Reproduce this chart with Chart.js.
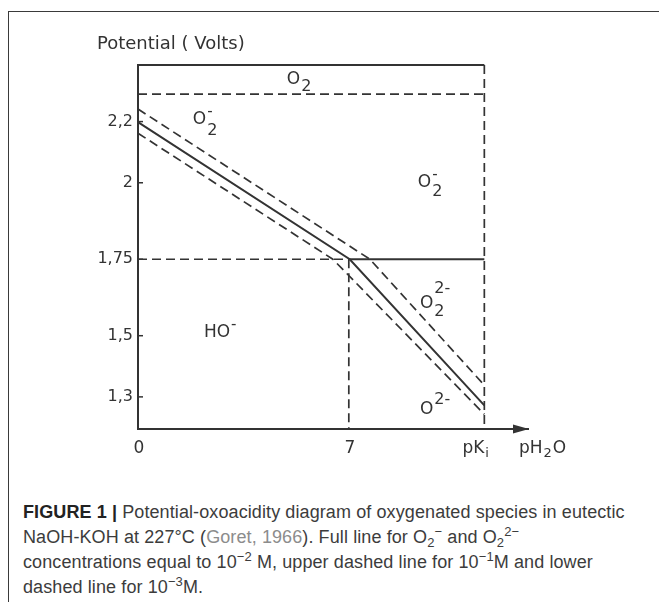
<!DOCTYPE html>
<html>
<head>
<meta charset="utf-8">
<script src="https://cdn.jsdelivr.net/npm/chart.js@4.4.1/dist/chart.umd.min.js"></script>
<style>
  html, body { margin: 0; padding: 0; background: #fff; }
  #fig { position: relative; width: 659px; height: 602px; overflow: hidden; }
  .edge { position: absolute; background: #3a3a3a; }
  #wrap { position: absolute; left: 0; top: 0; width: 659px; height: 480px; }
  #caption { position: absolute; left: 23px; top: 500px; font-family: "Liberation Sans", Arial, sans-serif;
             font-size: 18px; letter-spacing: 0.1px; line-height: 25px; color: #3c3c3c; white-space: nowrap; }
  #caption b { color: #222; }
  #caption .ref { color: #8c8c8c; }
  #caption sub, #caption sup { font-size: 13px; line-height: 0; vertical-align: baseline; position: relative; }
  #caption sub { top: 4px; }
  #caption sup { top: -7px; }
</style>
</head>
<body>
<div id="fig">
  <div class="edge" style="left:8px;top:11px;width:651px;height:1px"></div>
  <div class="edge" style="left:8px;top:11px;width:1px;height:591px"></div>
  <div id="wrap"><canvas id="c"></canvas></div>
  <div id="caption"><b>FIGURE 1 |</b> Potential-oxoacidity diagram of oxygenated species in eutectic<br>NaOH-KOH at 227°C (<span class="ref">Goret, 1966</span>). Full line for O<sub>2</sub><sup>−</sup> and O<sub>2</sub><sup>2−</sup><br>concentrations equal to 10<sup>−2</sup> M, upper dashed line for 10<sup>−1</sup>M and lower<br>dashed line for 10<sup>−3</sup>M.</div>
</div>

<script>
/* potential (V) vs pH2O */
const xTicks = [0, 7, 11.5];
const xTickLabels = [["0"], ["7"], ["pK", "i"]];
const yTicks = [1.3, 1.5, 1.75, 2, 2.2];
const yTickLabels = ["1,3", "1,5", "1,75", "2", "2,2"];
const xRange = [0, 12.95];
const yRange = [1.195, 2.385];

// domain boundaries [pH2O, V]
const topEdge   = [[0, 2.385], [11.5, 2.385]];
const o2Limit   = [[0, 2.29], [11.5, 2.29]];
const fullLine  = [[0, 2.198], [7.03, 1.75], [11.5, 1.272]];   // 10^-2 M
const upperLine = [[0, 2.241], [7.7, 1.75], [11.5, 1.338]];    // 10^-1 M
const lowerLine = [[0, 2.162], [6.47, 1.75], [11.5, 1.243]];   // 10^-3 M
const h175Dash  = [[0, 1.75], [7, 1.75]];
const h175Solid = [[7, 1.75], [11.5, 1.75]];
const vert7     = [[7, 1.75], [7, 1.195]];
const vertPk    = [[11.5, 2.385], [11.5, 1.195]];

// species labels: anchor [pH2O, V] + pieces [text, dy, size, stack]
const species = [
  { at: [4.94, 2.336], parts: [["O", 0, 17], ["2", 7, 16]] },
  { at: [1.82, 2.208], parts: [["O", 0, 17], ["-", -7, 15, true], ["2", 12, 16]] },
  { at: [9.29, 2.002], parts: [["O", 0, 17], ["-", -7, 15, true], ["2", 10, 16]] },
  { at: [9.36, 1.606], parts: [["O", 0, 17], ["2-", -14, 16, true], ["2", 9, 16]] },
  { at: [9.36, 1.259], parts: [["O", 0, 17], ["2-", -10, 16]] },
  { at: [2.19, 1.511], parts: [["HO", 0, 17], ["-", -7, 15]] }
];

const ink = "#333";
const fnt = (px) => `${px}px "DejaVu Sans", sans-serif`;
const pts = (a) => a.map(([x, y]) => ({ x, y }));

function seg(data, dashed, w) {
  return { data: pts(data), showLine: true, borderColor: ink, borderWidth: w || 1.7,
           borderDash: dashed ? [9, 5] : [], pointRadius: 0, tension: 0, clip: false };
}

// draw a run of text pieces, sub/superscripts shifted by dy
function chem(ctx, x, y, parts) {
  let cx = x;
  parts.forEach(([t, dy, size, stack]) => {
    ctx.font = fnt(size);
    ctx.fillText(t, cx, y + dy);
    if (!stack) cx += ctx.measureText(t).width + 1;
  });
  return cx;
}

const decor = {
  id: "decor",
  afterDraw(chart) {
    const { ctx, chartArea: a, scales: { x, y } } = chart;
    ctx.save();
    ctx.strokeStyle = ink; ctx.fillStyle = ink; ctx.lineWidth = 1.5;
    ctx.textBaseline = "middle"; ctx.textAlign = "left";

    // inward tick marks on the potential axis
    yTicks.forEach((v) => {
      const py = y.getPixelForValue(v);
      ctx.beginPath(); ctx.moveTo(a.left, py); ctx.lineTo(a.left + 5, py); ctx.stroke();
    });

    // arrow head on pH2O axis
    ctx.beginPath();
    ctx.moveTo(a.right + 1, a.bottom);
    ctx.lineTo(a.right - 15, a.bottom - 4.5);
    ctx.lineTo(a.right - 15, a.bottom + 4.5);
    ctx.closePath(); ctx.fill();

    // x tick labels
    const ly = a.bottom + 20;
    xTicks.forEach((v, i) => {
      const px = x.getPixelForValue(v);
      const lab = xTickLabels[i];
      if (lab.length === 1) {
        ctx.font = fnt(17); ctx.textAlign = "center";
        ctx.fillText(lab[0], px + 1, ly);
        ctx.textAlign = "left";
      } else {
        ctx.font = fnt(17);
        const w = ctx.measureText(lab[0]).width;
        chem(ctx, px - w, ly, [[lab[0], 0, 17], [lab[1], 5, 13]]);
      }
    });
    chem(ctx, a.right - 9, ly, [["pH", 0, 17], ["2", 5, 13], ["O", 0, 17]]);

    // axis title
    ctx.font = fnt(18);
    ctx.fillText("Potential ( Volts)", a.left - 41, a.top - 21);

    species.forEach((s) => {
      chem(ctx, x.getPixelForValue(s.at[0]), y.getPixelForValue(s.at[1]), s.parts);
    });
    ctx.restore();
  }
};

new Chart(document.getElementById("c"), {
  type: "scatter",
  data: {
    datasets: [
      seg(topEdge, false, 2),
      seg(o2Limit, true),
      seg(fullLine, false, 2),
      seg(upperLine, true),
      seg(lowerLine, true),
      seg(h175Dash, true),
      seg(h175Solid, false, 2),
      seg(vert7, true),
      seg(vertPk, true)
    ]
  },
  options: {
    responsive: true, maintainAspectRatio: false, animation: false, events: [],
    layout: { padding: { top: 65, right: 659 - 528, left: 0, bottom: 0 } },
    plugins: { legend: { display: false }, tooltip: { enabled: false } },
    scales: {
      x: {
        type: "linear", min: xRange[0], max: xRange[1],
        afterFit: (s) => { s.height = 51; },
        afterBuildTicks: (s) => { s.ticks = xTicks.map((v) => ({ value: v })); },
        grid: { display: false, drawTicks: false },
        border: { color: ink, width: 2 },
        ticks: { display: false }
      },
      y: {
        type: "linear", min: yRange[0], max: yRange[1],
        afterFit: (s) => { s.width = 138; },
        afterBuildTicks: (s) => { s.ticks = yTicks.map((v) => ({ value: v })); },
        grid: { display: false, drawTicks: false },
        border: { color: ink, width: 2 },
        ticks: { color: ink, padding: 5, font: { family: "DejaVu Sans", size: 16 },
                 callback: (v) => yTickLabels[yTicks.indexOf(v)] }
      }
    }
  },
  plugins: [decor]
});
</script>
</body>
</html>
